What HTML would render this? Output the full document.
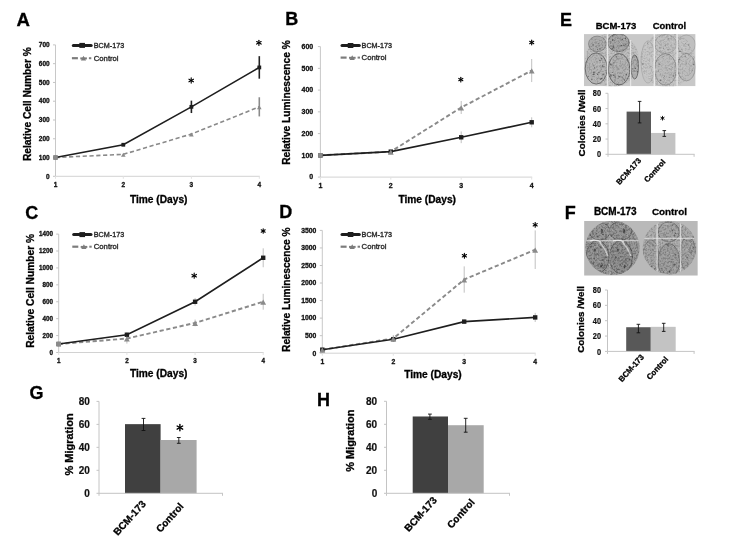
<!DOCTYPE html>
<html><head><meta charset="utf-8"><style>
html,body{margin:0;padding:0;background:#fff;}
body{width:729px;height:552px;overflow:hidden;}
svg{display:block;font-family:"Liberation Sans", sans-serif;filter:grayscale(1);}
</style></head><body>
<svg width="729" height="552" viewBox="0 0 729 552">
<defs><filter id="nz" x="0" y="0" width="1" height="1"><feTurbulence type="fractalNoise" baseFrequency="0.55" numOctaves="2" seed="11"/><feColorMatrix type="matrix" values="0 0 0 0 0  0 0 0 0 0  0 0 0 0 0  -5 0 0 0 2.7"/></filter><filter id="nz2" x="0" y="0" width="1" height="1"><feTurbulence type="fractalNoise" baseFrequency="0.35" numOctaves="2" seed="4"/><feColorMatrix type="matrix" values="0 0 0 0 1  0 0 0 0 1  0 0 0 0 1  4 0 0 0 -2.1"/></filter><filter id="blr" x="-5%" y="-5%" width="110%" height="110%"><feGaussianBlur stdDeviation="0.6"/></filter><clipPath id="ewl"><circle cx="612.2" cy="60.2" r="27"/></clipPath><clipPath id="ewr"><circle cx="667.6" cy="60.0" r="27.5"/></clipPath><clipPath id="c1"><rect x="583.9" y="34.1" width="111.70000000000005" height="52.199999999999996"/></clipPath><clipPath id="c2"><rect x="584.1" y="221.0" width="113.69999999999993" height="54.69999999999999"/></clipPath><clipPath id="c3"><circle cx="612.5" cy="247.9" r="27.1"/></clipPath><clipPath id="c4"><circle cx="669.4" cy="247.6" r="26.8"/></clipPath></defs>
<rect width="729" height="552" fill="#fff"/>
<line x1="55.50" y1="44.90" x2="55.50" y2="176.30" stroke="#c8c8c8" stroke-width="1" stroke-linecap="butt"/>
<line x1="55.50" y1="176.30" x2="259.80" y2="176.30" stroke="#d2d2d2" stroke-width="1" stroke-linecap="butt"/>
<line x1="53.00" y1="176.30" x2="55.50" y2="176.30" stroke="#c4c4c4" stroke-width="1" stroke-linecap="butt"/>
<text x="49.70" y="178.51" font-size="6.5" font-weight="bold" text-anchor="end" fill="#111" stroke="#111" stroke-width="0.3">0</text>
<line x1="53.00" y1="157.53" x2="55.50" y2="157.53" stroke="#c4c4c4" stroke-width="1" stroke-linecap="butt"/>
<text x="49.70" y="159.74" font-size="6.5" font-weight="bold" text-anchor="end" fill="#111" stroke="#111" stroke-width="0.3">100</text>
<line x1="53.00" y1="138.76" x2="55.50" y2="138.76" stroke="#c4c4c4" stroke-width="1" stroke-linecap="butt"/>
<text x="49.70" y="140.97" font-size="6.5" font-weight="bold" text-anchor="end" fill="#111" stroke="#111" stroke-width="0.3">200</text>
<line x1="53.00" y1="119.99" x2="55.50" y2="119.99" stroke="#c4c4c4" stroke-width="1" stroke-linecap="butt"/>
<text x="49.70" y="122.20" font-size="6.5" font-weight="bold" text-anchor="end" fill="#111" stroke="#111" stroke-width="0.3">300</text>
<line x1="53.00" y1="101.21" x2="55.50" y2="101.21" stroke="#c4c4c4" stroke-width="1" stroke-linecap="butt"/>
<text x="49.70" y="103.42" font-size="6.5" font-weight="bold" text-anchor="end" fill="#111" stroke="#111" stroke-width="0.3">400</text>
<line x1="53.00" y1="82.44" x2="55.50" y2="82.44" stroke="#c4c4c4" stroke-width="1" stroke-linecap="butt"/>
<text x="49.70" y="84.65" font-size="6.5" font-weight="bold" text-anchor="end" fill="#111" stroke="#111" stroke-width="0.3">500</text>
<line x1="53.00" y1="63.67" x2="55.50" y2="63.67" stroke="#c4c4c4" stroke-width="1" stroke-linecap="butt"/>
<text x="49.70" y="65.88" font-size="6.5" font-weight="bold" text-anchor="end" fill="#111" stroke="#111" stroke-width="0.3">600</text>
<line x1="53.00" y1="44.90" x2="55.50" y2="44.90" stroke="#c4c4c4" stroke-width="1" stroke-linecap="butt"/>
<text x="49.70" y="47.11" font-size="6.5" font-weight="bold" text-anchor="end" fill="#111" stroke="#111" stroke-width="0.3">700</text>
<line x1="55.50" y1="176.30" x2="55.50" y2="178.80" stroke="#e2e2e2" stroke-width="1" stroke-linecap="butt"/>
<text x="55.50" y="186.84" font-size="6.5" font-weight="bold" text-anchor="middle" fill="#111" stroke="#111" stroke-width="0.3">1</text>
<line x1="123.30" y1="176.30" x2="123.30" y2="178.80" stroke="#e2e2e2" stroke-width="1" stroke-linecap="butt"/>
<text x="123.30" y="186.84" font-size="6.5" font-weight="bold" text-anchor="middle" fill="#111" stroke="#111" stroke-width="0.3">2</text>
<line x1="191.40" y1="176.30" x2="191.40" y2="178.80" stroke="#e2e2e2" stroke-width="1" stroke-linecap="butt"/>
<text x="191.40" y="186.84" font-size="6.5" font-weight="bold" text-anchor="middle" fill="#111" stroke="#111" stroke-width="0.3">3</text>
<line x1="259.30" y1="176.30" x2="259.30" y2="178.80" stroke="#e2e2e2" stroke-width="1" stroke-linecap="butt"/>
<text x="259.30" y="186.84" font-size="6.5" font-weight="bold" text-anchor="middle" fill="#111" stroke="#111" stroke-width="0.3">4</text>
<text x="129.90" y="203.10" font-size="10.2" font-weight="bold" text-anchor="start" fill="#000" stroke="#000" stroke-width="0.3">Time (Days)</text>
<text x="30.80" y="161.00" font-size="10.2" font-weight="bold" text-anchor="start" fill="#000" stroke="#000" stroke-width="0.3" transform="rotate(-90 30.80 161.00)">Relative Cell Number %</text>
<line x1="191.40" y1="133.13" x2="191.40" y2="135.00" stroke="#8a8a8a" stroke-width="1.6" stroke-linecap="butt"/>
<line x1="259.30" y1="97.27" x2="259.30" y2="116.42" stroke="#8a8a8a" stroke-width="1.6" stroke-linecap="butt"/>
<line x1="191.40" y1="100.65" x2="191.40" y2="113.04" stroke="#222" stroke-width="1.6" stroke-linecap="butt"/>
<line x1="259.30" y1="56.16" x2="259.30" y2="78.69" stroke="#222" stroke-width="1.6" stroke-linecap="butt"/>
<polyline points="55.50,157.53 123.30,154.34 191.40,134.06 259.30,106.85" fill="none" stroke="#8a8a8a" stroke-width="1.6" stroke-dasharray="4.2,2.6"/>
<polyline points="55.50,157.53 123.30,144.76 191.40,106.85 259.30,67.43" fill="none" stroke="#1e1e1e" stroke-width="1.6"/>
<rect x="53.60" y="155.63" width="3.80" height="3.80" fill="#1e1e1e"/>
<rect x="121.40" y="142.86" width="3.80" height="3.80" fill="#1e1e1e"/>
<rect x="189.50" y="104.95" width="3.80" height="3.80" fill="#1e1e1e"/>
<rect x="257.40" y="65.53" width="3.80" height="3.80" fill="#1e1e1e"/>
<rect x="53.20" y="155.23" width="4.60" height="4.60" fill="#8a8a8a"/>
<polygon points="121.00,156.81 125.60,156.81 123.30,152.67" fill="#8a8a8a"/>
<polygon points="189.10,136.53 193.70,136.53 191.40,132.39" fill="#8a8a8a"/>
<polygon points="257.00,109.32 261.60,109.32 259.30,105.18" fill="#8a8a8a"/>
<line x1="191.20" y1="77.90" x2="191.20" y2="83.10" stroke="#000" stroke-width="1.1" stroke-linecap="round"/>
<line x1="188.95" y1="79.20" x2="193.45" y2="81.80" stroke="#000" stroke-width="1.1" stroke-linecap="round"/>
<line x1="193.45" y1="79.20" x2="188.95" y2="81.80" stroke="#000" stroke-width="1.1" stroke-linecap="round"/>
<line x1="258.90" y1="40.20" x2="258.90" y2="45.40" stroke="#000" stroke-width="1.1" stroke-linecap="round"/>
<line x1="256.65" y1="41.50" x2="261.15" y2="44.10" stroke="#000" stroke-width="1.1" stroke-linecap="round"/>
<line x1="261.15" y1="41.50" x2="256.65" y2="44.10" stroke="#000" stroke-width="1.1" stroke-linecap="round"/>
<line x1="73.30" y1="45.40" x2="91.20" y2="45.40" stroke="#1e1e1e" stroke-width="3.0" stroke-linecap="round"/>
<rect x="79.35" y="42.90" width="5.60" height="5.00" fill="#1e1e1e"/>
<line x1="71.90" y1="58.20" x2="77.90" y2="58.20" stroke="#7c7c7c" stroke-width="2.2" stroke-linecap="butt"/>
<polygon points="80.90,60.54 86.10,60.54 83.50,55.86" fill="#7c7c7c"/>
<line x1="80.30" y1="58.40" x2="86.90" y2="58.40" stroke="#7c7c7c" stroke-width="2.0" stroke-linecap="butt"/>
<line x1="88.90" y1="58.20" x2="91.30" y2="58.20" stroke="#7c7c7c" stroke-width="2.0" stroke-linecap="butt"/>
<text x="93.80" y="48.00" font-size="7.2" font-weight="normal" text-anchor="start" fill="#2a2a2a" stroke="#2a2a2a" stroke-width="0.35">BCM-173</text>
<text x="93.80" y="60.80" font-size="7.7" font-weight="normal" text-anchor="start" fill="#2a2a2a" stroke="#2a2a2a" stroke-width="0.35">Control</text>
<text x="16.60" y="26.00" font-size="18.6" font-weight="bold" text-anchor="start" fill="#000" stroke="#000" stroke-width="0.3">A</text>
<line x1="320.40" y1="46.60" x2="320.40" y2="177.10" stroke="#c8c8c8" stroke-width="1" stroke-linecap="butt"/>
<line x1="320.40" y1="177.10" x2="532.20" y2="177.10" stroke="#d2d2d2" stroke-width="1" stroke-linecap="butt"/>
<line x1="317.90" y1="177.10" x2="320.40" y2="177.10" stroke="#c4c4c4" stroke-width="1" stroke-linecap="butt"/>
<text x="313.20" y="179.48" font-size="7.0" font-weight="bold" text-anchor="end" fill="#111" stroke="#111" stroke-width="0.3">0</text>
<line x1="317.90" y1="155.35" x2="320.40" y2="155.35" stroke="#c4c4c4" stroke-width="1" stroke-linecap="butt"/>
<text x="313.20" y="157.73" font-size="7.0" font-weight="bold" text-anchor="end" fill="#111" stroke="#111" stroke-width="0.3">100</text>
<line x1="317.90" y1="133.60" x2="320.40" y2="133.60" stroke="#c4c4c4" stroke-width="1" stroke-linecap="butt"/>
<text x="313.20" y="135.98" font-size="7.0" font-weight="bold" text-anchor="end" fill="#111" stroke="#111" stroke-width="0.3">200</text>
<line x1="317.90" y1="111.85" x2="320.40" y2="111.85" stroke="#c4c4c4" stroke-width="1" stroke-linecap="butt"/>
<text x="313.20" y="114.23" font-size="7.0" font-weight="bold" text-anchor="end" fill="#111" stroke="#111" stroke-width="0.3">300</text>
<line x1="317.90" y1="90.10" x2="320.40" y2="90.10" stroke="#c4c4c4" stroke-width="1" stroke-linecap="butt"/>
<text x="313.20" y="92.48" font-size="7.0" font-weight="bold" text-anchor="end" fill="#111" stroke="#111" stroke-width="0.3">400</text>
<line x1="317.90" y1="68.35" x2="320.40" y2="68.35" stroke="#c4c4c4" stroke-width="1" stroke-linecap="butt"/>
<text x="313.20" y="70.73" font-size="7.0" font-weight="bold" text-anchor="end" fill="#111" stroke="#111" stroke-width="0.3">500</text>
<line x1="317.90" y1="46.60" x2="320.40" y2="46.60" stroke="#c4c4c4" stroke-width="1" stroke-linecap="butt"/>
<text x="313.20" y="48.98" font-size="7.0" font-weight="bold" text-anchor="end" fill="#111" stroke="#111" stroke-width="0.3">600</text>
<line x1="320.40" y1="177.10" x2="320.40" y2="179.60" stroke="#e2e2e2" stroke-width="1" stroke-linecap="butt"/>
<text x="320.40" y="187.82" font-size="7.0" font-weight="bold" text-anchor="middle" fill="#111" stroke="#111" stroke-width="0.3">1</text>
<line x1="390.80" y1="177.10" x2="390.80" y2="179.60" stroke="#e2e2e2" stroke-width="1" stroke-linecap="butt"/>
<text x="390.80" y="187.82" font-size="7.0" font-weight="bold" text-anchor="middle" fill="#111" stroke="#111" stroke-width="0.3">2</text>
<line x1="461.20" y1="177.10" x2="461.20" y2="179.60" stroke="#e2e2e2" stroke-width="1" stroke-linecap="butt"/>
<text x="461.20" y="187.82" font-size="7.0" font-weight="bold" text-anchor="middle" fill="#111" stroke="#111" stroke-width="0.3">3</text>
<line x1="531.70" y1="177.10" x2="531.70" y2="179.60" stroke="#e2e2e2" stroke-width="1" stroke-linecap="butt"/>
<text x="531.70" y="187.82" font-size="7.0" font-weight="bold" text-anchor="middle" fill="#111" stroke="#111" stroke-width="0.3">4</text>
<text x="398.40" y="203.30" font-size="10.2" font-weight="bold" text-anchor="start" fill="#000" stroke="#000" stroke-width="0.3">Time (Days)</text>
<text x="289.60" y="164.80" font-size="10.2" font-weight="bold" text-anchor="start" fill="#000" stroke="#000" stroke-width="0.3" transform="rotate(-90 289.60 164.80)">Relative Luminescence %</text>
<line x1="461.20" y1="100.97" x2="461.20" y2="114.02" stroke="#c0c0c0" stroke-width="1" stroke-linecap="butt"/>
<line x1="531.70" y1="59.00" x2="531.70" y2="82.05" stroke="#c0c0c0" stroke-width="1" stroke-linecap="butt"/>
<line x1="461.20" y1="131.43" x2="461.20" y2="143.17" stroke="#c0c0c0" stroke-width="1" stroke-linecap="butt"/>
<line x1="531.70" y1="117.29" x2="531.70" y2="127.29" stroke="#c0c0c0" stroke-width="1" stroke-linecap="butt"/>
<polyline points="320.40,155.35 390.80,151.65 461.20,107.50 531.70,70.52" fill="none" stroke="#8a8a8a" stroke-width="1.9" stroke-dasharray="4.2,2.6"/>
<polyline points="320.40,155.35 390.80,151.65 461.20,137.30 531.70,122.29" fill="none" stroke="#1e1e1e" stroke-width="1.6"/>
<rect x="318.20" y="153.15" width="4.40" height="4.40" fill="#1e1e1e"/>
<rect x="388.60" y="149.45" width="4.40" height="4.40" fill="#1e1e1e"/>
<rect x="459.00" y="135.10" width="4.40" height="4.40" fill="#1e1e1e"/>
<rect x="529.50" y="120.09" width="4.40" height="4.40" fill="#1e1e1e"/>
<rect x="318.10" y="153.05" width="4.60" height="4.60" fill="#8a8a8a"/>
<polygon points="387.90,154.66 393.70,154.66 390.80,149.44" fill="#8a8a8a"/>
<polygon points="458.30,110.51 464.10,110.51 461.20,105.29" fill="#8a8a8a"/>
<polygon points="528.80,73.53 534.60,73.53 531.70,68.31" fill="#8a8a8a"/>
<line x1="460.80" y1="77.25" x2="460.80" y2="81.95" stroke="#000" stroke-width="1.1" stroke-linecap="round"/>
<line x1="458.76" y1="78.42" x2="462.84" y2="80.77" stroke="#000" stroke-width="1.1" stroke-linecap="round"/>
<line x1="462.84" y1="78.42" x2="458.76" y2="80.77" stroke="#000" stroke-width="1.1" stroke-linecap="round"/>
<line x1="531.70" y1="40.15" x2="531.70" y2="44.85" stroke="#000" stroke-width="1.1" stroke-linecap="round"/>
<line x1="529.66" y1="41.33" x2="533.74" y2="43.67" stroke="#000" stroke-width="1.1" stroke-linecap="round"/>
<line x1="533.74" y1="41.33" x2="529.66" y2="43.67" stroke="#000" stroke-width="1.1" stroke-linecap="round"/>
<line x1="342.00" y1="45.50" x2="359.30" y2="45.50" stroke="#1e1e1e" stroke-width="3.0" stroke-linecap="round"/>
<rect x="347.75" y="43.00" width="5.60" height="5.00" fill="#1e1e1e"/>
<line x1="340.60" y1="57.60" x2="346.60" y2="57.60" stroke="#7c7c7c" stroke-width="2.2" stroke-linecap="butt"/>
<polygon points="349.60,59.94 354.80,59.94 352.20,55.26" fill="#7c7c7c"/>
<line x1="349.00" y1="57.80" x2="355.60" y2="57.80" stroke="#7c7c7c" stroke-width="2.0" stroke-linecap="butt"/>
<line x1="357.60" y1="57.60" x2="360.00" y2="57.60" stroke="#7c7c7c" stroke-width="2.0" stroke-linecap="butt"/>
<text x="361.60" y="48.10" font-size="7.2" font-weight="normal" text-anchor="start" fill="#2a2a2a" stroke="#2a2a2a" stroke-width="0.35">BCM-173</text>
<text x="361.60" y="60.20" font-size="7.7" font-weight="normal" text-anchor="start" fill="#2a2a2a" stroke="#2a2a2a" stroke-width="0.35">Control</text>
<text x="285.20" y="25.10" font-size="18" font-weight="bold" text-anchor="start" fill="#000" stroke="#000" stroke-width="0.3">B</text>
<line x1="58.70" y1="234.10" x2="58.70" y2="352.50" stroke="#c8c8c8" stroke-width="1" stroke-linecap="butt"/>
<line x1="58.70" y1="352.50" x2="263.70" y2="352.50" stroke="#d2d2d2" stroke-width="1" stroke-linecap="butt"/>
<line x1="56.20" y1="352.50" x2="58.70" y2="352.50" stroke="#c4c4c4" stroke-width="1" stroke-linecap="butt"/>
<text x="52.90" y="354.64" font-size="6.3" font-weight="bold" text-anchor="end" fill="#111" stroke="#111" stroke-width="0.3">0</text>
<line x1="56.20" y1="335.59" x2="58.70" y2="335.59" stroke="#c4c4c4" stroke-width="1" stroke-linecap="butt"/>
<text x="52.90" y="337.73" font-size="6.3" font-weight="bold" text-anchor="end" fill="#111" stroke="#111" stroke-width="0.3">200</text>
<line x1="56.20" y1="318.67" x2="58.70" y2="318.67" stroke="#c4c4c4" stroke-width="1" stroke-linecap="butt"/>
<text x="52.90" y="320.81" font-size="6.3" font-weight="bold" text-anchor="end" fill="#111" stroke="#111" stroke-width="0.3">400</text>
<line x1="56.20" y1="301.76" x2="58.70" y2="301.76" stroke="#c4c4c4" stroke-width="1" stroke-linecap="butt"/>
<text x="52.90" y="303.90" font-size="6.3" font-weight="bold" text-anchor="end" fill="#111" stroke="#111" stroke-width="0.3">600</text>
<line x1="56.20" y1="284.84" x2="58.70" y2="284.84" stroke="#c4c4c4" stroke-width="1" stroke-linecap="butt"/>
<text x="52.90" y="286.98" font-size="6.3" font-weight="bold" text-anchor="end" fill="#111" stroke="#111" stroke-width="0.3">800</text>
<line x1="56.20" y1="267.93" x2="58.70" y2="267.93" stroke="#c4c4c4" stroke-width="1" stroke-linecap="butt"/>
<text x="52.90" y="270.07" font-size="6.3" font-weight="bold" text-anchor="end" fill="#111" stroke="#111" stroke-width="0.3">1000</text>
<line x1="56.20" y1="251.01" x2="58.70" y2="251.01" stroke="#c4c4c4" stroke-width="1" stroke-linecap="butt"/>
<text x="52.90" y="253.16" font-size="6.3" font-weight="bold" text-anchor="end" fill="#111" stroke="#111" stroke-width="0.3">1200</text>
<line x1="56.20" y1="234.10" x2="58.70" y2="234.10" stroke="#c4c4c4" stroke-width="1" stroke-linecap="butt"/>
<text x="52.90" y="236.24" font-size="6.3" font-weight="bold" text-anchor="end" fill="#111" stroke="#111" stroke-width="0.3">1400</text>
<line x1="58.70" y1="352.50" x2="58.70" y2="355.00" stroke="#e2e2e2" stroke-width="1" stroke-linecap="butt"/>
<text x="58.70" y="363.47" font-size="6.3" font-weight="bold" text-anchor="middle" fill="#111" stroke="#111" stroke-width="0.3">1</text>
<line x1="126.90" y1="352.50" x2="126.90" y2="355.00" stroke="#e2e2e2" stroke-width="1" stroke-linecap="butt"/>
<text x="126.90" y="363.47" font-size="6.3" font-weight="bold" text-anchor="middle" fill="#111" stroke="#111" stroke-width="0.3">2</text>
<line x1="195.10" y1="352.50" x2="195.10" y2="355.00" stroke="#e2e2e2" stroke-width="1" stroke-linecap="butt"/>
<text x="195.10" y="363.47" font-size="6.3" font-weight="bold" text-anchor="middle" fill="#111" stroke="#111" stroke-width="0.3">3</text>
<line x1="263.20" y1="352.50" x2="263.20" y2="355.00" stroke="#e2e2e2" stroke-width="1" stroke-linecap="butt"/>
<text x="263.20" y="363.47" font-size="6.3" font-weight="bold" text-anchor="middle" fill="#111" stroke="#111" stroke-width="0.3">4</text>
<text x="129.90" y="377.40" font-size="10.2" font-weight="bold" text-anchor="start" fill="#000" stroke="#000" stroke-width="0.3">Time (Days)</text>
<text x="34.10" y="347.80" font-size="10.2" font-weight="bold" text-anchor="start" fill="#000" stroke="#000" stroke-width="0.3" transform="rotate(-90 34.10 347.80)">Relative Cell Number %</text>
<line x1="126.90" y1="333.47" x2="126.90" y2="343.62" stroke="#c0c0c0" stroke-width="1" stroke-linecap="butt"/>
<line x1="195.10" y1="319.52" x2="195.10" y2="326.28" stroke="#c0c0c0" stroke-width="1" stroke-linecap="butt"/>
<line x1="263.20" y1="293.81" x2="263.20" y2="309.71" stroke="#c0c0c0" stroke-width="1" stroke-linecap="butt"/>
<line x1="126.90" y1="332.20" x2="126.90" y2="337.28" stroke="#c0c0c0" stroke-width="1" stroke-linecap="butt"/>
<line x1="195.10" y1="297.95" x2="195.10" y2="305.56" stroke="#c0c0c0" stroke-width="1" stroke-linecap="butt"/>
<line x1="263.20" y1="248.31" x2="263.20" y2="267.25" stroke="#c0c0c0" stroke-width="1" stroke-linecap="butt"/>
<polyline points="58.70,344.04 126.90,338.55 195.10,322.90 263.20,301.76" fill="none" stroke="#8a8a8a" stroke-width="1.9" stroke-dasharray="4.2,2.6"/>
<polyline points="58.70,344.04 126.90,334.74 195.10,301.76 263.20,257.78" fill="none" stroke="#1e1e1e" stroke-width="1.6"/>
<rect x="56.50" y="341.84" width="4.40" height="4.40" fill="#1e1e1e"/>
<rect x="124.70" y="332.54" width="4.40" height="4.40" fill="#1e1e1e"/>
<rect x="192.90" y="299.56" width="4.40" height="4.40" fill="#1e1e1e"/>
<rect x="261.00" y="255.58" width="4.40" height="4.40" fill="#1e1e1e"/>
<rect x="56.40" y="341.74" width="4.60" height="4.60" fill="#8a8a8a"/>
<polygon points="124.00,341.56 129.80,341.56 126.90,336.34" fill="#8a8a8a"/>
<polygon points="192.20,325.91 198.00,325.91 195.10,320.69" fill="#8a8a8a"/>
<polygon points="260.30,304.77 266.10,304.77 263.20,299.55" fill="#8a8a8a"/>
<line x1="194.20" y1="273.10" x2="194.20" y2="278.30" stroke="#000" stroke-width="1.1" stroke-linecap="round"/>
<line x1="191.95" y1="274.40" x2="196.45" y2="277.00" stroke="#000" stroke-width="1.1" stroke-linecap="round"/>
<line x1="196.45" y1="274.40" x2="191.95" y2="277.00" stroke="#000" stroke-width="1.1" stroke-linecap="round"/>
<line x1="263.20" y1="228.70" x2="263.20" y2="233.30" stroke="#000" stroke-width="1.1" stroke-linecap="round"/>
<line x1="261.21" y1="229.85" x2="265.19" y2="232.15" stroke="#000" stroke-width="1.1" stroke-linecap="round"/>
<line x1="265.19" y1="229.85" x2="261.21" y2="232.15" stroke="#000" stroke-width="1.1" stroke-linecap="round"/>
<line x1="73.70" y1="234.60" x2="91.00" y2="234.60" stroke="#1e1e1e" stroke-width="3.0" stroke-linecap="round"/>
<rect x="79.45" y="232.10" width="5.60" height="5.00" fill="#1e1e1e"/>
<line x1="72.30" y1="246.70" x2="78.30" y2="246.70" stroke="#7c7c7c" stroke-width="2.2" stroke-linecap="butt"/>
<polygon points="81.30,249.04 86.50,249.04 83.90,244.36" fill="#7c7c7c"/>
<line x1="80.70" y1="246.90" x2="87.30" y2="246.90" stroke="#7c7c7c" stroke-width="2.0" stroke-linecap="butt"/>
<line x1="89.30" y1="246.70" x2="91.70" y2="246.70" stroke="#7c7c7c" stroke-width="2.0" stroke-linecap="butt"/>
<text x="93.80" y="237.20" font-size="7.2" font-weight="normal" text-anchor="start" fill="#2a2a2a" stroke="#2a2a2a" stroke-width="0.35">BCM-173</text>
<text x="93.80" y="249.30" font-size="7.7" font-weight="normal" text-anchor="start" fill="#2a2a2a" stroke="#2a2a2a" stroke-width="0.35">Control</text>
<text x="25.30" y="218.60" font-size="18" font-weight="bold" text-anchor="start" fill="#000" stroke="#000" stroke-width="0.3">C</text>
<line x1="322.30" y1="230.40" x2="322.30" y2="353.20" stroke="#c8c8c8" stroke-width="1" stroke-linecap="butt"/>
<line x1="322.30" y1="353.20" x2="535.70" y2="353.20" stroke="#d2d2d2" stroke-width="1" stroke-linecap="butt"/>
<line x1="319.80" y1="353.20" x2="322.30" y2="353.20" stroke="#c4c4c4" stroke-width="1" stroke-linecap="butt"/>
<text x="316.40" y="355.51" font-size="6.8" font-weight="bold" text-anchor="end" fill="#111" stroke="#111" stroke-width="0.3">0</text>
<line x1="319.80" y1="335.66" x2="322.30" y2="335.66" stroke="#c4c4c4" stroke-width="1" stroke-linecap="butt"/>
<text x="316.40" y="337.97" font-size="6.8" font-weight="bold" text-anchor="end" fill="#111" stroke="#111" stroke-width="0.3">500</text>
<line x1="319.80" y1="318.11" x2="322.30" y2="318.11" stroke="#c4c4c4" stroke-width="1" stroke-linecap="butt"/>
<text x="316.40" y="320.43" font-size="6.8" font-weight="bold" text-anchor="end" fill="#111" stroke="#111" stroke-width="0.3">1000</text>
<line x1="319.80" y1="300.57" x2="322.30" y2="300.57" stroke="#c4c4c4" stroke-width="1" stroke-linecap="butt"/>
<text x="316.40" y="302.88" font-size="6.8" font-weight="bold" text-anchor="end" fill="#111" stroke="#111" stroke-width="0.3">1500</text>
<line x1="319.80" y1="283.03" x2="322.30" y2="283.03" stroke="#c4c4c4" stroke-width="1" stroke-linecap="butt"/>
<text x="316.40" y="285.34" font-size="6.8" font-weight="bold" text-anchor="end" fill="#111" stroke="#111" stroke-width="0.3">2000</text>
<line x1="319.80" y1="265.49" x2="322.30" y2="265.49" stroke="#c4c4c4" stroke-width="1" stroke-linecap="butt"/>
<text x="316.40" y="267.80" font-size="6.8" font-weight="bold" text-anchor="end" fill="#111" stroke="#111" stroke-width="0.3">2500</text>
<line x1="319.80" y1="247.94" x2="322.30" y2="247.94" stroke="#c4c4c4" stroke-width="1" stroke-linecap="butt"/>
<text x="316.40" y="250.25" font-size="6.8" font-weight="bold" text-anchor="end" fill="#111" stroke="#111" stroke-width="0.3">3000</text>
<line x1="319.80" y1="230.40" x2="322.30" y2="230.40" stroke="#c4c4c4" stroke-width="1" stroke-linecap="butt"/>
<text x="316.40" y="232.71" font-size="6.8" font-weight="bold" text-anchor="end" fill="#111" stroke="#111" stroke-width="0.3">3500</text>
<line x1="322.30" y1="353.20" x2="322.30" y2="355.70" stroke="#e2e2e2" stroke-width="1" stroke-linecap="butt"/>
<text x="322.30" y="363.95" font-size="6.8" font-weight="bold" text-anchor="middle" fill="#111" stroke="#111" stroke-width="0.3">1</text>
<line x1="393.30" y1="353.20" x2="393.30" y2="355.70" stroke="#e2e2e2" stroke-width="1" stroke-linecap="butt"/>
<text x="393.30" y="363.95" font-size="6.8" font-weight="bold" text-anchor="middle" fill="#111" stroke="#111" stroke-width="0.3">2</text>
<line x1="464.20" y1="353.20" x2="464.20" y2="355.70" stroke="#e2e2e2" stroke-width="1" stroke-linecap="butt"/>
<text x="464.20" y="363.95" font-size="6.8" font-weight="bold" text-anchor="middle" fill="#111" stroke="#111" stroke-width="0.3">3</text>
<line x1="535.20" y1="353.20" x2="535.20" y2="355.70" stroke="#e2e2e2" stroke-width="1" stroke-linecap="butt"/>
<text x="535.20" y="363.95" font-size="6.8" font-weight="bold" text-anchor="middle" fill="#111" stroke="#111" stroke-width="0.3">4</text>
<text x="404.20" y="377.90" font-size="10.2" font-weight="bold" text-anchor="start" fill="#000" stroke="#000" stroke-width="0.3">Time (Days)</text>
<text x="289.60" y="351.90" font-size="10.2" font-weight="bold" text-anchor="start" fill="#000" stroke="#000" stroke-width="0.3" transform="rotate(-90 289.60 351.90)">Relative Luminescence %</text>
<line x1="393.30" y1="334.96" x2="393.30" y2="341.97" stroke="#c0c0c0" stroke-width="1" stroke-linecap="butt"/>
<line x1="464.20" y1="266.36" x2="464.20" y2="292.68" stroke="#c0c0c0" stroke-width="1" stroke-linecap="butt"/>
<line x1="535.20" y1="230.40" x2="535.20" y2="268.99" stroke="#c0c0c0" stroke-width="1" stroke-linecap="butt"/>
<line x1="393.30" y1="337.76" x2="393.30" y2="340.57" stroke="#c0c0c0" stroke-width="1" stroke-linecap="butt"/>
<line x1="464.20" y1="319.52" x2="464.20" y2="323.73" stroke="#c0c0c0" stroke-width="1" stroke-linecap="butt"/>
<line x1="535.20" y1="312.85" x2="535.20" y2="321.97" stroke="#c0c0c0" stroke-width="1" stroke-linecap="butt"/>
<polyline points="322.30,349.69 393.30,338.46 464.20,279.52 535.20,249.70" fill="none" stroke="#8a8a8a" stroke-width="1.9" stroke-dasharray="4.2,2.6"/>
<polyline points="322.30,349.69 393.30,339.17 464.20,321.62 535.20,317.41" fill="none" stroke="#1e1e1e" stroke-width="1.6"/>
<rect x="320.10" y="347.49" width="4.40" height="4.40" fill="#1e1e1e"/>
<rect x="391.10" y="336.97" width="4.40" height="4.40" fill="#1e1e1e"/>
<rect x="462.00" y="319.42" width="4.40" height="4.40" fill="#1e1e1e"/>
<rect x="533.00" y="315.21" width="4.40" height="4.40" fill="#1e1e1e"/>
<polygon points="319.40,352.70 325.20,352.70 322.30,347.48" fill="#8a8a8a"/>
<polygon points="390.40,341.47 396.20,341.47 393.30,336.25" fill="#8a8a8a"/>
<polygon points="461.30,282.53 467.10,282.53 464.20,277.31" fill="#8a8a8a"/>
<polygon points="532.30,252.71 538.10,252.71 535.20,247.49" fill="#8a8a8a"/>
<line x1="464.40" y1="253.40" x2="464.40" y2="258.20" stroke="#000" stroke-width="1.1" stroke-linecap="round"/>
<line x1="462.32" y1="254.60" x2="466.48" y2="257.00" stroke="#000" stroke-width="1.1" stroke-linecap="round"/>
<line x1="466.48" y1="254.60" x2="462.32" y2="257.00" stroke="#000" stroke-width="1.1" stroke-linecap="round"/>
<line x1="535.20" y1="222.45" x2="535.20" y2="227.15" stroke="#000" stroke-width="1.1" stroke-linecap="round"/>
<line x1="533.16" y1="223.62" x2="537.24" y2="225.98" stroke="#000" stroke-width="1.1" stroke-linecap="round"/>
<line x1="537.24" y1="223.62" x2="533.16" y2="225.98" stroke="#000" stroke-width="1.1" stroke-linecap="round"/>
<line x1="342.00" y1="234.50" x2="359.30" y2="234.50" stroke="#1e1e1e" stroke-width="3.0" stroke-linecap="round"/>
<rect x="347.75" y="232.00" width="5.60" height="5.00" fill="#1e1e1e"/>
<line x1="340.60" y1="246.70" x2="346.60" y2="246.70" stroke="#7c7c7c" stroke-width="2.2" stroke-linecap="butt"/>
<polygon points="349.60,249.04 354.80,249.04 352.20,244.36" fill="#7c7c7c"/>
<line x1="349.00" y1="246.90" x2="355.60" y2="246.90" stroke="#7c7c7c" stroke-width="2.0" stroke-linecap="butt"/>
<line x1="357.60" y1="246.70" x2="360.00" y2="246.70" stroke="#7c7c7c" stroke-width="2.0" stroke-linecap="butt"/>
<text x="361.60" y="237.10" font-size="7.2" font-weight="normal" text-anchor="start" fill="#2a2a2a" stroke="#2a2a2a" stroke-width="0.35">BCM-173</text>
<text x="361.60" y="249.30" font-size="7.7" font-weight="normal" text-anchor="start" fill="#2a2a2a" stroke="#2a2a2a" stroke-width="0.35">Control</text>
<text x="279.20" y="218.30" font-size="18" font-weight="bold" text-anchor="start" fill="#000" stroke="#000" stroke-width="0.3">D</text>
<rect x="626.60" y="111.60" width="24.40" height="42.70" fill="#585858"/>
<rect x="651.00" y="132.95" width="24.40" height="21.35" fill="#c3c3c3"/>
<line x1="608.00" y1="93.30" x2="608.00" y2="154.30" stroke="#c4c4c4" stroke-width="1" stroke-linecap="butt"/>
<line x1="608.00" y1="154.30" x2="694.60" y2="154.30" stroke="#c4c4c4" stroke-width="1" stroke-linecap="butt"/>
<line x1="608.00" y1="154.30" x2="608.00" y2="156.80" stroke="#c4c4c4" stroke-width="1" stroke-linecap="butt"/>
<line x1="694.10" y1="154.30" x2="694.10" y2="156.80" stroke="#c4c4c4" stroke-width="1" stroke-linecap="butt"/>
<line x1="605.50" y1="154.30" x2="608.00" y2="154.30" stroke="#c4c4c4" stroke-width="1" stroke-linecap="butt"/>
<text x="0" y="0" font-size="8.6" font-weight="bold" text-anchor="end" fill="#111" stroke="#111" stroke-width="0.2" transform="translate(601.00 157.40) scale(0.86 1)">0</text>
<line x1="605.50" y1="139.05" x2="608.00" y2="139.05" stroke="#c4c4c4" stroke-width="1" stroke-linecap="butt"/>
<text x="0" y="0" font-size="8.6" font-weight="bold" text-anchor="end" fill="#111" stroke="#111" stroke-width="0.2" transform="translate(601.00 142.15) scale(0.86 1)">20</text>
<line x1="605.50" y1="123.80" x2="608.00" y2="123.80" stroke="#c4c4c4" stroke-width="1" stroke-linecap="butt"/>
<text x="0" y="0" font-size="8.6" font-weight="bold" text-anchor="end" fill="#111" stroke="#111" stroke-width="0.2" transform="translate(601.00 126.90) scale(0.86 1)">40</text>
<line x1="605.50" y1="108.55" x2="608.00" y2="108.55" stroke="#c4c4c4" stroke-width="1" stroke-linecap="butt"/>
<text x="0" y="0" font-size="8.6" font-weight="bold" text-anchor="end" fill="#111" stroke="#111" stroke-width="0.2" transform="translate(601.00 111.65) scale(0.86 1)">60</text>
<line x1="605.50" y1="93.30" x2="608.00" y2="93.30" stroke="#c4c4c4" stroke-width="1" stroke-linecap="butt"/>
<text x="0" y="0" font-size="8.6" font-weight="bold" text-anchor="end" fill="#111" stroke="#111" stroke-width="0.2" transform="translate(601.00 96.40) scale(0.86 1)">80</text>
<line x1="639.60" y1="101.40" x2="639.60" y2="122.90" stroke="#111" stroke-width="0.9" stroke-linecap="butt"/>
<line x1="637.80" y1="101.40" x2="641.40" y2="101.40" stroke="#111" stroke-width="0.9" stroke-linecap="butt"/>
<line x1="637.80" y1="122.90" x2="641.40" y2="122.90" stroke="#111" stroke-width="0.9" stroke-linecap="butt"/>
<line x1="664.30" y1="130.60" x2="664.30" y2="136.40" stroke="#111" stroke-width="0.9" stroke-linecap="butt"/>
<line x1="662.50" y1="130.60" x2="666.10" y2="130.60" stroke="#111" stroke-width="0.9" stroke-linecap="butt"/>
<line x1="662.50" y1="136.40" x2="666.10" y2="136.40" stroke="#111" stroke-width="0.9" stroke-linecap="butt"/>
<line x1="662.50" y1="116.30" x2="662.50" y2="120.10" stroke="#000" stroke-width="0.9" stroke-linecap="round"/>
<line x1="660.85" y1="117.25" x2="664.15" y2="119.15" stroke="#000" stroke-width="0.9" stroke-linecap="round"/>
<line x1="664.15" y1="117.25" x2="660.85" y2="119.15" stroke="#000" stroke-width="0.9" stroke-linecap="round"/>
<text x="585.00" y="156.40" font-size="9.8" font-weight="bold" text-anchor="start" fill="#000" stroke="#000" stroke-width="0.3" transform="rotate(-90 585.00 156.40)">Colonies /Well</text>
<text x="641.60" y="160.90" font-size="7.7" font-weight="bold" text-anchor="end" fill="#000" stroke="#000" stroke-width="0.3" transform="rotate(-48 641.60 160.90)">BCM-173</text>
<text x="665.90" y="162.50" font-size="7.7" font-weight="bold" text-anchor="end" fill="#000" stroke="#000" stroke-width="0.3" transform="rotate(-48 665.90 162.50)">Control</text>
<text x="560.00" y="25.90" font-size="18" font-weight="bold" text-anchor="start" fill="#000" stroke="#000" stroke-width="0.3">E</text>
<rect x="626.20" y="327.22" width="24.60" height="24.18" fill="#585858"/>
<rect x="650.80" y="326.84" width="24.90" height="24.56" fill="#c3c3c3"/>
<line x1="607.50" y1="290.00" x2="607.50" y2="351.40" stroke="#c4c4c4" stroke-width="1" stroke-linecap="butt"/>
<line x1="607.50" y1="351.40" x2="694.60" y2="351.40" stroke="#c4c4c4" stroke-width="1" stroke-linecap="butt"/>
<line x1="607.50" y1="351.40" x2="607.50" y2="353.90" stroke="#c4c4c4" stroke-width="1" stroke-linecap="butt"/>
<line x1="694.10" y1="351.40" x2="694.10" y2="353.90" stroke="#c4c4c4" stroke-width="1" stroke-linecap="butt"/>
<line x1="605.00" y1="351.40" x2="607.50" y2="351.40" stroke="#c4c4c4" stroke-width="1" stroke-linecap="butt"/>
<text x="0" y="0" font-size="8.6" font-weight="bold" text-anchor="end" fill="#111" stroke="#111" stroke-width="0.2" transform="translate(601.00 354.50) scale(0.86 1)">0</text>
<line x1="605.00" y1="336.05" x2="607.50" y2="336.05" stroke="#c4c4c4" stroke-width="1" stroke-linecap="butt"/>
<text x="0" y="0" font-size="8.6" font-weight="bold" text-anchor="end" fill="#111" stroke="#111" stroke-width="0.2" transform="translate(601.00 339.15) scale(0.86 1)">20</text>
<line x1="605.00" y1="320.70" x2="607.50" y2="320.70" stroke="#c4c4c4" stroke-width="1" stroke-linecap="butt"/>
<text x="0" y="0" font-size="8.6" font-weight="bold" text-anchor="end" fill="#111" stroke="#111" stroke-width="0.2" transform="translate(601.00 323.80) scale(0.86 1)">40</text>
<line x1="605.00" y1="305.35" x2="607.50" y2="305.35" stroke="#c4c4c4" stroke-width="1" stroke-linecap="butt"/>
<text x="0" y="0" font-size="8.6" font-weight="bold" text-anchor="end" fill="#111" stroke="#111" stroke-width="0.2" transform="translate(601.00 308.45) scale(0.86 1)">60</text>
<line x1="605.00" y1="290.00" x2="607.50" y2="290.00" stroke="#c4c4c4" stroke-width="1" stroke-linecap="butt"/>
<text x="0" y="0" font-size="8.6" font-weight="bold" text-anchor="end" fill="#111" stroke="#111" stroke-width="0.2" transform="translate(601.00 293.10) scale(0.86 1)">80</text>
<line x1="638.40" y1="324.30" x2="638.40" y2="332.80" stroke="#111" stroke-width="0.9" stroke-linecap="butt"/>
<line x1="636.60" y1="324.30" x2="640.20" y2="324.30" stroke="#111" stroke-width="0.9" stroke-linecap="butt"/>
<line x1="636.60" y1="332.80" x2="640.20" y2="332.80" stroke="#111" stroke-width="0.9" stroke-linecap="butt"/>
<line x1="663.70" y1="323.30" x2="663.70" y2="331.40" stroke="#111" stroke-width="0.9" stroke-linecap="butt"/>
<line x1="661.90" y1="323.30" x2="665.50" y2="323.30" stroke="#111" stroke-width="0.9" stroke-linecap="butt"/>
<line x1="661.90" y1="331.40" x2="665.50" y2="331.40" stroke="#111" stroke-width="0.9" stroke-linecap="butt"/>
<text x="584.40" y="352.80" font-size="9.8" font-weight="bold" text-anchor="start" fill="#000" stroke="#000" stroke-width="0.3" transform="rotate(-90 584.40 352.80)">Colonies /Well</text>
<text x="644.50" y="357.40" font-size="7.9" font-weight="bold" text-anchor="end" fill="#000" stroke="#000" stroke-width="0.3" transform="rotate(-48 644.50 357.40)">BCM-173</text>
<text x="668.70" y="359.50" font-size="7.9" font-weight="bold" text-anchor="end" fill="#000" stroke="#000" stroke-width="0.3" transform="rotate(-48 668.70 359.50)">Control</text>
<text x="564.80" y="219.20" font-size="18" font-weight="bold" text-anchor="start" fill="#000" stroke="#000" stroke-width="0.3">F</text>
<rect x="125.00" y="424.15" width="35.60" height="69.15" fill="#404040"/>
<rect x="160.60" y="440.00" width="36.00" height="53.30" fill="#a8a8a8"/>
<line x1="99.00" y1="401.40" x2="99.00" y2="493.30" stroke="#c4c4c4" stroke-width="1" stroke-linecap="butt"/>
<line x1="99.00" y1="493.30" x2="223.00" y2="493.30" stroke="#c4c4c4" stroke-width="1" stroke-linecap="butt"/>
<line x1="99.00" y1="493.30" x2="99.00" y2="495.80" stroke="#c4c4c4" stroke-width="1" stroke-linecap="butt"/>
<line x1="222.50" y1="493.30" x2="222.50" y2="495.80" stroke="#c4c4c4" stroke-width="1" stroke-linecap="butt"/>
<line x1="96.50" y1="493.30" x2="99.00" y2="493.30" stroke="#c4c4c4" stroke-width="1" stroke-linecap="butt"/>
<text x="89.80" y="496.90" font-size="10" font-weight="bold" text-anchor="end" fill="#111" stroke="#111" stroke-width="0.2">0</text>
<line x1="96.50" y1="470.32" x2="99.00" y2="470.32" stroke="#c4c4c4" stroke-width="1" stroke-linecap="butt"/>
<text x="89.80" y="473.93" font-size="10" font-weight="bold" text-anchor="end" fill="#111" stroke="#111" stroke-width="0.2">20</text>
<line x1="96.50" y1="447.35" x2="99.00" y2="447.35" stroke="#c4c4c4" stroke-width="1" stroke-linecap="butt"/>
<text x="89.80" y="450.95" font-size="10" font-weight="bold" text-anchor="end" fill="#111" stroke="#111" stroke-width="0.2">40</text>
<line x1="96.50" y1="424.38" x2="99.00" y2="424.38" stroke="#c4c4c4" stroke-width="1" stroke-linecap="butt"/>
<text x="89.80" y="427.98" font-size="10" font-weight="bold" text-anchor="end" fill="#111" stroke="#111" stroke-width="0.2">60</text>
<line x1="96.50" y1="401.40" x2="99.00" y2="401.40" stroke="#c4c4c4" stroke-width="1" stroke-linecap="butt"/>
<text x="89.80" y="405.00" font-size="10" font-weight="bold" text-anchor="end" fill="#111" stroke="#111" stroke-width="0.2">80</text>
<line x1="143.50" y1="418.40" x2="143.50" y2="430.50" stroke="#111" stroke-width="0.9" stroke-linecap="butt"/>
<line x1="141.60" y1="418.40" x2="145.40" y2="418.40" stroke="#111" stroke-width="0.9" stroke-linecap="butt"/>
<line x1="141.60" y1="430.50" x2="145.40" y2="430.50" stroke="#111" stroke-width="0.9" stroke-linecap="butt"/>
<line x1="178.80" y1="437.50" x2="178.80" y2="443.30" stroke="#111" stroke-width="0.9" stroke-linecap="butt"/>
<line x1="176.90" y1="437.50" x2="180.70" y2="437.50" stroke="#111" stroke-width="0.9" stroke-linecap="butt"/>
<line x1="176.90" y1="443.30" x2="180.70" y2="443.30" stroke="#111" stroke-width="0.9" stroke-linecap="butt"/>
<line x1="179.90" y1="424.40" x2="179.90" y2="430.80" stroke="#000" stroke-width="1.4" stroke-linecap="round"/>
<line x1="177.13" y1="426.00" x2="182.67" y2="429.20" stroke="#000" stroke-width="1.4" stroke-linecap="round"/>
<line x1="182.67" y1="426.00" x2="177.13" y2="429.20" stroke="#000" stroke-width="1.4" stroke-linecap="round"/>
<text x="72.70" y="475.60" font-size="11.0" font-weight="bold" text-anchor="start" fill="#000" stroke="#000" stroke-width="0.3" transform="rotate(-90 72.70 475.60)">% Migration</text>
<text x="146.40" y="504.30" font-size="10" font-weight="bold" text-anchor="end" fill="#000" stroke="#000" stroke-width="0.3" transform="rotate(-48 146.40 504.30)">BCM-173</text>
<text x="184.20" y="506.70" font-size="10" font-weight="bold" text-anchor="end" fill="#000" stroke="#000" stroke-width="0.3" transform="rotate(-48 184.20 506.70)">Control</text>
<text x="29.40" y="399.30" font-size="18" font-weight="bold" text-anchor="start" fill="#000" stroke="#000" stroke-width="0.3">G</text>
<rect x="412.70" y="416.48" width="35.30" height="76.82" fill="#404040"/>
<rect x="448.00" y="425.22" width="35.70" height="68.08" fill="#a8a8a8"/>
<line x1="386.50" y1="401.30" x2="386.50" y2="493.30" stroke="#c4c4c4" stroke-width="1" stroke-linecap="butt"/>
<line x1="386.50" y1="493.30" x2="510.00" y2="493.30" stroke="#c4c4c4" stroke-width="1" stroke-linecap="butt"/>
<line x1="386.50" y1="493.30" x2="386.50" y2="495.80" stroke="#c4c4c4" stroke-width="1" stroke-linecap="butt"/>
<line x1="509.50" y1="493.30" x2="509.50" y2="495.80" stroke="#c4c4c4" stroke-width="1" stroke-linecap="butt"/>
<line x1="384.00" y1="493.30" x2="386.50" y2="493.30" stroke="#c4c4c4" stroke-width="1" stroke-linecap="butt"/>
<text x="377.20" y="496.90" font-size="10" font-weight="bold" text-anchor="end" fill="#111" stroke="#111" stroke-width="0.2">0</text>
<line x1="384.00" y1="470.30" x2="386.50" y2="470.30" stroke="#c4c4c4" stroke-width="1" stroke-linecap="butt"/>
<text x="377.20" y="473.90" font-size="10" font-weight="bold" text-anchor="end" fill="#111" stroke="#111" stroke-width="0.2">20</text>
<line x1="384.00" y1="447.30" x2="386.50" y2="447.30" stroke="#c4c4c4" stroke-width="1" stroke-linecap="butt"/>
<text x="377.20" y="450.90" font-size="10" font-weight="bold" text-anchor="end" fill="#111" stroke="#111" stroke-width="0.2">40</text>
<line x1="384.00" y1="424.30" x2="386.50" y2="424.30" stroke="#c4c4c4" stroke-width="1" stroke-linecap="butt"/>
<text x="377.20" y="427.90" font-size="10" font-weight="bold" text-anchor="end" fill="#111" stroke="#111" stroke-width="0.2">60</text>
<line x1="384.00" y1="401.30" x2="386.50" y2="401.30" stroke="#c4c4c4" stroke-width="1" stroke-linecap="butt"/>
<text x="377.20" y="404.90" font-size="10" font-weight="bold" text-anchor="end" fill="#111" stroke="#111" stroke-width="0.2">80</text>
<line x1="429.90" y1="414.10" x2="429.90" y2="419.30" stroke="#111" stroke-width="0.9" stroke-linecap="butt"/>
<line x1="428.00" y1="414.10" x2="431.80" y2="414.10" stroke="#111" stroke-width="0.9" stroke-linecap="butt"/>
<line x1="428.00" y1="419.30" x2="431.80" y2="419.30" stroke="#111" stroke-width="0.9" stroke-linecap="butt"/>
<line x1="465.70" y1="418.30" x2="465.70" y2="432.20" stroke="#111" stroke-width="0.9" stroke-linecap="butt"/>
<line x1="463.80" y1="418.30" x2="467.60" y2="418.30" stroke="#111" stroke-width="0.9" stroke-linecap="butt"/>
<line x1="463.80" y1="432.20" x2="467.60" y2="432.20" stroke="#111" stroke-width="0.9" stroke-linecap="butt"/>
<text x="354.40" y="471.80" font-size="11.0" font-weight="bold" text-anchor="start" fill="#000" stroke="#000" stroke-width="0.3" transform="rotate(-90 354.40 471.80)">% Migration</text>
<text x="437.50" y="500.50" font-size="10" font-weight="bold" text-anchor="end" fill="#000" stroke="#000" stroke-width="0.3" transform="rotate(-48 437.50 500.50)">BCM-173</text>
<text x="475.30" y="502.60" font-size="10" font-weight="bold" text-anchor="end" fill="#000" stroke="#000" stroke-width="0.3" transform="rotate(-48 475.30 502.60)">Control</text>
<text x="317.10" y="405.60" font-size="18" font-weight="bold" text-anchor="start" fill="#000" stroke="#000" stroke-width="0.3">H</text>
<g clip-path="url(#c1)"><g filter="url(#blr)">
<rect x="583.90" y="34.10" width="111.70" height="52.20" fill="#c8c8c8"/>
<circle cx="612.2" cy="60.2" r="27" fill="#bebebe"/>
<ellipse cx="597.3" cy="43.9" rx="8.8" ry="7.8" fill="#aaaaaa" stroke="#707070" stroke-width="0.6" opacity="1"/>
<ellipse cx="618.4" cy="42.6" rx="10.6" ry="9.0" fill="#a5a5a5" stroke="#5a5a5a" stroke-width="0.7" opacity="1"/>
<ellipse cx="596.2" cy="68.5" rx="11.0" ry="15.6" fill="#b3b3b3" stroke="#5a5a5a" stroke-width="0.8" opacity="1"/>
<ellipse cx="619.1" cy="69.3" rx="10.8" ry="15.7" fill="#b0b0b0" stroke="#5a5a5a" stroke-width="0.8" opacity="1"/>
<ellipse cx="634.7" cy="67.0" rx="3.7" ry="12.0" fill="#adadad" stroke="#5a5a5a" stroke-width="0.8" opacity="1"/>
<circle cx="595.92" cy="46.34" r="0.64" fill="#555" opacity="0.54"/>
<circle cx="592.63" cy="42.95" r="0.38" fill="#555" opacity="0.75"/>
<circle cx="602.37" cy="44.98" r="0.38" fill="#555" opacity="0.55"/>
<circle cx="590.89" cy="46.82" r="0.41" fill="#555" opacity="0.61"/>
<circle cx="591.93" cy="38.99" r="0.61" fill="#555" opacity="0.70"/>
<circle cx="598.99" cy="43.67" r="0.74" fill="#555" opacity="0.64"/>
<circle cx="598.98" cy="45.80" r="0.49" fill="#555" opacity="0.91"/>
<circle cx="599.85" cy="48.75" r="0.64" fill="#555" opacity="0.69"/>
<circle cx="595.40" cy="43.38" r="0.38" fill="#555" opacity="0.60"/>
<circle cx="595.11" cy="39.74" r="0.49" fill="#555" opacity="0.79"/>
<circle cx="593.15" cy="45.01" r="0.71" fill="#555" opacity="0.85"/>
<circle cx="597.52" cy="49.22" r="0.59" fill="#555" opacity="0.94"/>
<circle cx="617.74" cy="38.29" r="0.79" fill="#444" opacity="0.56"/>
<circle cx="611.17" cy="46.07" r="0.42" fill="#444" opacity="0.74"/>
<circle cx="625.96" cy="44.21" r="0.69" fill="#444" opacity="0.79"/>
<circle cx="622.19" cy="39.40" r="0.66" fill="#444" opacity="0.80"/>
<circle cx="612.75" cy="39.97" r="0.73" fill="#444" opacity="0.97"/>
<circle cx="610.73" cy="43.67" r="0.38" fill="#444" opacity="0.85"/>
<circle cx="612.67" cy="36.16" r="0.72" fill="#444" opacity="0.64"/>
<circle cx="612.52" cy="46.96" r="0.36" fill="#444" opacity="0.73"/>
<circle cx="620.01" cy="45.01" r="0.38" fill="#444" opacity="0.88"/>
<circle cx="621.66" cy="45.53" r="0.53" fill="#444" opacity="0.94"/>
<circle cx="623.99" cy="45.23" r="0.60" fill="#444" opacity="0.94"/>
<circle cx="622.14" cy="35.77" r="0.48" fill="#444" opacity="0.71"/>
<circle cx="612.74" cy="48.51" r="0.78" fill="#444" opacity="0.58"/>
<circle cx="620.45" cy="46.09" r="0.46" fill="#444" opacity="0.74"/>
<circle cx="614.26" cy="40.39" r="0.35" fill="#444" opacity="0.71"/>
<circle cx="613.51" cy="47.06" r="0.78" fill="#444" opacity="0.85"/>
<circle cx="610.94" cy="41.98" r="0.65" fill="#444" opacity="0.53"/>
<circle cx="625.20" cy="38.38" r="0.74" fill="#444" opacity="0.90"/>
<circle cx="613.70" cy="45.80" r="0.40" fill="#444" opacity="0.82"/>
<circle cx="620.69" cy="43.40" r="0.44" fill="#444" opacity="0.58"/>
<circle cx="594.98" cy="71.22" r="0.35" fill="#555" opacity="0.58"/>
<circle cx="601.00" cy="73.54" r="0.36" fill="#555" opacity="0.94"/>
<circle cx="593.32" cy="64.95" r="0.46" fill="#555" opacity="0.67"/>
<circle cx="593.92" cy="72.21" r="0.73" fill="#555" opacity="1.00"/>
<circle cx="589.47" cy="70.57" r="0.39" fill="#555" opacity="0.55"/>
<circle cx="593.40" cy="74.53" r="0.72" fill="#555" opacity="0.58"/>
<circle cx="605.75" cy="70.48" r="0.59" fill="#555" opacity="0.57"/>
<circle cx="594.63" cy="67.88" r="0.59" fill="#555" opacity="0.99"/>
<circle cx="601.60" cy="59.63" r="0.47" fill="#555" opacity="0.68"/>
<circle cx="600.53" cy="79.20" r="0.59" fill="#555" opacity="0.89"/>
<circle cx="593.96" cy="74.32" r="0.72" fill="#555" opacity="0.99"/>
<circle cx="601.54" cy="58.43" r="0.72" fill="#555" opacity="0.87"/>
<circle cx="597.24" cy="78.49" r="0.51" fill="#555" opacity="0.51"/>
<circle cx="601.35" cy="69.80" r="0.47" fill="#555" opacity="0.85"/>
<circle cx="602.58" cy="65.97" r="0.77" fill="#555" opacity="0.99"/>
<circle cx="601.94" cy="66.13" r="0.45" fill="#555" opacity="0.61"/>
<circle cx="597.67" cy="74.49" r="0.63" fill="#555" opacity="0.95"/>
<circle cx="599.89" cy="60.31" r="0.64" fill="#555" opacity="0.90"/>
<circle cx="603.13" cy="74.30" r="0.76" fill="#555" opacity="0.89"/>
<circle cx="596.21" cy="58.79" r="0.43" fill="#555" opacity="0.89"/>
<circle cx="591.81" cy="79.41" r="0.79" fill="#555" opacity="0.70"/>
<circle cx="588.36" cy="76.43" r="0.68" fill="#555" opacity="0.59"/>
<circle cx="598.89" cy="72.41" r="0.76" fill="#555" opacity="0.90"/>
<circle cx="601.66" cy="78.64" r="0.79" fill="#555" opacity="0.83"/>
<circle cx="591.87" cy="76.90" r="0.41" fill="#555" opacity="0.51"/>
<circle cx="604.05" cy="66.44" r="0.59" fill="#555" opacity="0.97"/>
<circle cx="610.80" cy="74.63" r="0.72" fill="#555" opacity="0.61"/>
<circle cx="619.04" cy="76.95" r="0.46" fill="#555" opacity="0.79"/>
<circle cx="618.73" cy="78.43" r="0.41" fill="#555" opacity="0.96"/>
<circle cx="615.11" cy="76.90" r="0.61" fill="#555" opacity="0.95"/>
<circle cx="610.92" cy="75.77" r="0.58" fill="#555" opacity="0.77"/>
<circle cx="617.79" cy="69.02" r="0.55" fill="#555" opacity="0.59"/>
<circle cx="627.79" cy="69.61" r="0.43" fill="#555" opacity="0.74"/>
<circle cx="617.97" cy="58.89" r="0.50" fill="#555" opacity="0.76"/>
<circle cx="611.01" cy="65.03" r="0.40" fill="#555" opacity="0.78"/>
<circle cx="619.15" cy="76.74" r="0.70" fill="#555" opacity="0.75"/>
<circle cx="611.26" cy="64.64" r="0.76" fill="#555" opacity="0.72"/>
<circle cx="613.85" cy="62.77" r="0.58" fill="#555" opacity="0.85"/>
<circle cx="612.32" cy="72.34" r="0.57" fill="#555" opacity="0.97"/>
<circle cx="616.25" cy="56.74" r="0.77" fill="#555" opacity="0.63"/>
<circle cx="610.31" cy="64.29" r="0.73" fill="#555" opacity="0.57"/>
<circle cx="623.77" cy="75.80" r="0.38" fill="#555" opacity="0.62"/>
<circle cx="626.23" cy="74.43" r="0.70" fill="#555" opacity="0.95"/>
<circle cx="623.75" cy="79.17" r="0.65" fill="#555" opacity="0.57"/>
<circle cx="626.19" cy="59.97" r="0.45" fill="#555" opacity="0.98"/>
<circle cx="613.65" cy="75.18" r="0.80" fill="#555" opacity="0.92"/>
<circle cx="622.47" cy="77.18" r="0.58" fill="#555" opacity="0.67"/>
<circle cx="620.93" cy="76.82" r="0.67" fill="#555" opacity="0.51"/>
<circle cx="613.02" cy="66.18" r="0.36" fill="#555" opacity="0.67"/>
<circle cx="614.15" cy="62.20" r="0.38" fill="#555" opacity="0.99"/>
<circle cx="621.39" cy="55.77" r="0.40" fill="#555" opacity="0.63"/>
<circle cx="627.41" cy="72.37" r="0.47" fill="#555" opacity="0.56"/>
<circle cx="610.91" cy="75.63" r="0.72" fill="#555" opacity="0.63"/>
<circle cx="624.61" cy="80.23" r="0.61" fill="#555" opacity="0.85"/>
<circle cx="635.38" cy="68.38" r="0.66" fill="#555" opacity="0.71"/>
<circle cx="637.60" cy="71.60" r="0.64" fill="#555" opacity="0.90"/>
<circle cx="637.36" cy="72.02" r="0.38" fill="#555" opacity="0.93"/>
<circle cx="632.84" cy="68.80" r="0.60" fill="#555" opacity="0.96"/>
<circle cx="634.57" cy="70.86" r="0.59" fill="#555" opacity="0.62"/>
<g clip-path="url(#ewl)"><rect x="584" y="34" width="56" height="53" filter="url(#nz)" opacity="0.13"/><rect x="584" y="34" width="56" height="53" filter="url(#nz2)" opacity="0.15"/></g>
<line x1="607.5" y1="34" x2="607.5" y2="87" stroke="#f2f2f2" stroke-width="1.4" opacity="0.8"/>
<line x1="630.6" y1="40" x2="630.6" y2="86" stroke="#f2f2f2" stroke-width="1.2" opacity="0.7"/>
<circle cx="667.6" cy="60.0" r="27.5" fill="#c3c3c3"/>
<ellipse cx="648.0" cy="62.0" rx="7.0" ry="21.0" fill="#c4c4c4" stroke="#a0a0a0" stroke-width="0.6" opacity="1"/>
<ellipse cx="665.5" cy="44.0" rx="11.0" ry="9.5" fill="#bebebe" stroke="#888" stroke-width="0.6" opacity="1"/>
<ellipse cx="665.5" cy="69.4" rx="11.0" ry="15.8" fill="#bababa" stroke="#808080" stroke-width="0.7" opacity="1"/>
<ellipse cx="686.4" cy="44.5" rx="8.9" ry="9.5" fill="#c0c0c0" stroke="#959595" stroke-width="0.6" opacity="1"/>
<ellipse cx="686.4" cy="67.2" rx="8.9" ry="13.7" fill="#bcbcbc" stroke="#888" stroke-width="0.7" opacity="1"/>
<circle cx="668.57" cy="46.18" r="0.37" fill="#666" opacity="0.60"/>
<circle cx="663.42" cy="48.37" r="0.69" fill="#666" opacity="0.64"/>
<circle cx="661.32" cy="44.00" r="0.51" fill="#666" opacity="0.51"/>
<circle cx="665.50" cy="45.06" r="0.68" fill="#666" opacity="0.78"/>
<circle cx="668.03" cy="49.47" r="0.77" fill="#666" opacity="0.55"/>
<circle cx="668.23" cy="38.90" r="0.57" fill="#666" opacity="0.92"/>
<circle cx="659.98" cy="47.79" r="0.66" fill="#666" opacity="0.99"/>
<circle cx="660.53" cy="80.23" r="0.67" fill="#666" opacity="0.82"/>
<circle cx="660.68" cy="74.13" r="0.37" fill="#666" opacity="0.56"/>
<circle cx="673.19" cy="74.66" r="0.47" fill="#666" opacity="0.58"/>
<circle cx="673.33" cy="76.00" r="0.74" fill="#666" opacity="0.84"/>
<circle cx="664.53" cy="76.26" r="0.48" fill="#666" opacity="0.73"/>
<circle cx="669.13" cy="77.34" r="0.47" fill="#666" opacity="0.98"/>
<circle cx="672.71" cy="67.60" r="0.46" fill="#666" opacity="0.98"/>
<circle cx="663.34" cy="77.30" r="0.35" fill="#666" opacity="0.69"/>
<circle cx="658.57" cy="71.00" r="0.44" fill="#666" opacity="0.75"/>
<circle cx="670.59" cy="69.63" r="0.39" fill="#666" opacity="0.70"/>
<circle cx="666.93" cy="69.95" r="0.49" fill="#666" opacity="0.62"/>
<circle cx="659.31" cy="64.10" r="0.69" fill="#666" opacity="0.83"/>
<circle cx="663.53" cy="56.37" r="0.53" fill="#666" opacity="0.66"/>
<circle cx="669.31" cy="68.87" r="0.68" fill="#666" opacity="0.82"/>
<circle cx="693.45" cy="64.47" r="0.75" fill="#666" opacity="0.81"/>
<circle cx="685.67" cy="43.86" r="0.41" fill="#666" opacity="0.76"/>
<circle cx="679.08" cy="59.55" r="0.71" fill="#666" opacity="0.91"/>
<circle cx="679.86" cy="51.43" r="0.66" fill="#666" opacity="0.85"/>
<circle cx="686.58" cy="63.15" r="0.41" fill="#666" opacity="0.68"/>
<circle cx="692.19" cy="70.08" r="0.60" fill="#666" opacity="0.81"/>
<circle cx="681.76" cy="49.42" r="0.57" fill="#666" opacity="0.50"/>
<circle cx="688.45" cy="45.12" r="0.58" fill="#666" opacity="0.77"/>
<circle cx="685.29" cy="56.11" r="0.68" fill="#666" opacity="0.63"/>
<circle cx="650.90" cy="66.39" r="0.68" fill="#777" opacity="0.60"/>
<circle cx="647.60" cy="43.37" r="0.57" fill="#777" opacity="0.69"/>
<circle cx="642.84" cy="64.06" r="0.70" fill="#777" opacity="0.81"/>
<circle cx="646.91" cy="57.89" r="0.42" fill="#777" opacity="0.63"/>
<circle cx="647.85" cy="51.58" r="0.61" fill="#777" opacity="0.51"/>
<g clip-path="url(#ewr)"><rect x="640" y="34" width="56" height="53" filter="url(#nz)" opacity="0.1"/><rect x="640" y="34" width="56" height="53" filter="url(#nz2)" opacity="0.15"/></g>
<line x1="654.3" y1="34" x2="654.3" y2="87" stroke="#f2f2f2" stroke-width="1.4" opacity="0.8"/>
<line x1="677.1" y1="34" x2="677.1" y2="87" stroke="#f2f2f2" stroke-width="1.4" opacity="0.8"/>
</g></g>
<text x="595.70" y="28.80" font-size="9.5" font-weight="bold" text-anchor="start" fill="#000" stroke="#000" stroke-width="0.3">BCM-173</text>
<text x="652.70" y="28.50" font-size="9.4" font-weight="bold" text-anchor="start" fill="#000" stroke="#000" stroke-width="0.3">Control</text>
<g clip-path="url(#c2)"><g filter="url(#blr)">
<rect x="584.10" y="221.00" width="113.70" height="54.70" fill="#b9b9b9"/>
<g clip-path="url(#c3)">
<rect x="584.00" y="220.00" width="58.00" height="58.00" fill="#979797"/>
<ellipse cx="599.7" cy="231.4" rx="10.4" ry="8.8" fill="#969696" stroke="#5a5a5a" stroke-width="0.8" opacity="1"/>
<ellipse cx="620.6" cy="230.9" rx="11.2" ry="9.3" fill="#939393" stroke="#555" stroke-width="0.8" opacity="1"/>
<ellipse cx="597.6" cy="257.0" rx="11.4" ry="16.2" fill="#909090" stroke="#555" stroke-width="0.8" opacity="1"/>
<ellipse cx="620.9" cy="257.2" rx="11.6" ry="16.4" fill="#8e8e8e" stroke="#555" stroke-width="0.8" opacity="1"/>
<ellipse cx="601.8" cy="231.0" rx="1.1" ry="2.2" fill="#4a4a4a" stroke="none" stroke-width="0" opacity="1"/>
<ellipse cx="624.0" cy="231.0" rx="1.1" ry="2.2" fill="#4a4a4a" stroke="none" stroke-width="0" opacity="1"/>
<ellipse cx="601.0" cy="266.0" rx="1.0" ry="1.8" fill="#4a4a4a" stroke="none" stroke-width="0" opacity="1"/>
<ellipse cx="624.5" cy="266.5" rx="1.0" ry="1.8" fill="#4a4a4a" stroke="none" stroke-width="0" opacity="1"/>
<ellipse cx="595" cy="250" rx="0.9" ry="1.5" fill="#4a4a4a" stroke="none" stroke-width="0" opacity="1"/>
<ellipse cx="618" cy="250" rx="0.9" ry="1.5" fill="#4a4a4a" stroke="none" stroke-width="0" opacity="1"/>
<circle cx="602.54" cy="259.81" r="0.79" fill="#555" opacity="0.85"/>
<circle cx="595.11" cy="249.98" r="0.71" fill="#555" opacity="0.73"/>
<circle cx="594.15" cy="258.05" r="0.90" fill="#555" opacity="0.60"/>
<circle cx="607.43" cy="255.07" r="0.46" fill="#555" opacity="0.73"/>
<circle cx="601.89" cy="244.02" r="0.67" fill="#555" opacity="0.63"/>
<circle cx="600.09" cy="270.73" r="0.56" fill="#555" opacity="0.79"/>
<circle cx="602.27" cy="265.21" r="0.93" fill="#555" opacity="0.57"/>
<circle cx="600.72" cy="247.60" r="0.89" fill="#555" opacity="0.85"/>
<circle cx="598.73" cy="270.72" r="0.69" fill="#555" opacity="0.51"/>
<circle cx="604.79" cy="257.23" r="0.68" fill="#555" opacity="0.65"/>
<circle cx="601.41" cy="263.61" r="0.61" fill="#555" opacity="0.92"/>
<circle cx="606.49" cy="257.14" r="0.87" fill="#555" opacity="0.56"/>
<circle cx="605.35" cy="251.51" r="0.90" fill="#555" opacity="0.64"/>
<circle cx="593.13" cy="263.57" r="0.95" fill="#555" opacity="0.79"/>
<circle cx="593.30" cy="264.32" r="0.59" fill="#555" opacity="0.52"/>
<circle cx="605.12" cy="264.94" r="0.59" fill="#555" opacity="0.97"/>
<circle cx="597.62" cy="264.52" r="0.71" fill="#555" opacity="0.59"/>
<circle cx="590.58" cy="267.19" r="0.89" fill="#555" opacity="0.91"/>
<circle cx="590.93" cy="246.79" r="0.92" fill="#555" opacity="0.77"/>
<circle cx="597.17" cy="253.82" r="0.82" fill="#555" opacity="0.73"/>
<circle cx="621.04" cy="245.35" r="0.59" fill="#555" opacity="0.52"/>
<circle cx="624.24" cy="254.86" r="0.69" fill="#555" opacity="0.67"/>
<circle cx="618.25" cy="269.32" r="0.94" fill="#555" opacity="0.63"/>
<circle cx="617.71" cy="250.48" r="0.73" fill="#555" opacity="0.70"/>
<circle cx="622.98" cy="262.35" r="0.55" fill="#555" opacity="0.95"/>
<circle cx="616.00" cy="257.33" r="0.90" fill="#555" opacity="1.00"/>
<circle cx="617.19" cy="258.91" r="0.55" fill="#555" opacity="0.55"/>
<circle cx="619.18" cy="260.93" r="0.57" fill="#555" opacity="0.63"/>
<circle cx="611.99" cy="251.31" r="0.82" fill="#555" opacity="0.71"/>
<circle cx="614.42" cy="262.70" r="0.64" fill="#555" opacity="0.67"/>
<circle cx="625.99" cy="260.16" r="0.93" fill="#555" opacity="0.56"/>
<circle cx="612.62" cy="256.95" r="0.88" fill="#555" opacity="0.61"/>
<circle cx="620.21" cy="264.49" r="0.65" fill="#555" opacity="0.72"/>
<circle cx="630.12" cy="253.32" r="0.89" fill="#555" opacity="0.51"/>
<circle cx="629.51" cy="259.70" r="0.90" fill="#555" opacity="0.74"/>
<circle cx="620.78" cy="257.10" r="0.65" fill="#555" opacity="0.96"/>
<circle cx="625.32" cy="245.06" r="0.94" fill="#555" opacity="0.62"/>
<circle cx="624.08" cy="260.87" r="0.71" fill="#555" opacity="0.84"/>
<circle cx="629.18" cy="252.69" r="0.77" fill="#555" opacity="0.88"/>
<circle cx="613.42" cy="260.10" r="0.47" fill="#555" opacity="0.89"/>
<circle cx="600.68" cy="238.95" r="0.77" fill="#555" opacity="0.65"/>
<circle cx="602.96" cy="234.26" r="0.77" fill="#555" opacity="0.85"/>
<circle cx="601.59" cy="232.76" r="0.71" fill="#555" opacity="0.79"/>
<circle cx="596.32" cy="233.82" r="0.75" fill="#555" opacity="0.51"/>
<circle cx="597.68" cy="236.50" r="0.93" fill="#555" opacity="0.82"/>
<circle cx="604.51" cy="227.76" r="0.57" fill="#555" opacity="0.62"/>
<circle cx="607.32" cy="229.77" r="0.60" fill="#555" opacity="0.51"/>
<circle cx="592.01" cy="231.47" r="0.66" fill="#555" opacity="0.63"/>
<circle cx="615.79" cy="223.91" r="0.56" fill="#555" opacity="0.52"/>
<circle cx="617.17" cy="235.52" r="0.79" fill="#555" opacity="0.60"/>
<circle cx="623.13" cy="224.02" r="0.70" fill="#555" opacity="0.60"/>
<circle cx="626.13" cy="230.02" r="0.86" fill="#555" opacity="0.62"/>
<circle cx="622.17" cy="238.08" r="0.60" fill="#555" opacity="0.98"/>
<circle cx="616.24" cy="231.00" r="0.56" fill="#555" opacity="0.71"/>
<circle cx="615.62" cy="223.87" r="0.52" fill="#555" opacity="0.70"/>
<circle cx="622.90" cy="238.94" r="0.52" fill="#555" opacity="0.53"/>
<rect x="584" y="220" width="58" height="57" filter="url(#nz)" opacity="0.22"/><rect x="584" y="220" width="58" height="57" filter="url(#nz2)" opacity="0.15"/>
<line x1="585" y1="240.6" x2="640" y2="240.6" stroke="#f2f2f2" stroke-width="1.2" opacity="0.55"/>
<path d="M599.5,242 Q605,248 608,256" fill="none" stroke="#f4f4f4" stroke-width="1.5" opacity="0.6"/>
<path d="M622.5,242 Q628,248 631,256" fill="none" stroke="#f4f4f4" stroke-width="1.5" opacity="0.6"/>
<path d="M590,241 Q596,239 601,242" fill="none" stroke="#f4f4f4" stroke-width="1.2" opacity="0.8"/>
<path d="M613,241 Q619,239 624,242" fill="none" stroke="#f4f4f4" stroke-width="1.2" opacity="0.8"/>
<line x1="609.8" y1="221" x2="609.8" y2="275" stroke="#f2f2f2" stroke-width="0.9" opacity="0.35"/>
</g>
<g clip-path="url(#c4)">
<rect x="641.00" y="220.00" width="58.00" height="58.00" fill="#ababab"/>
<ellipse cx="651.0" cy="257.0" rx="8.0" ry="17.0" fill="#a2a2a2" stroke="#6e6e6e" stroke-width="0.7" opacity="1"/>
<ellipse cx="668.8" cy="232.0" rx="10.5" ry="10.0" fill="#a3a3a3" stroke="#707070" stroke-width="0.7" opacity="1"/>
<ellipse cx="668.8" cy="261.0" rx="10.8" ry="17.5" fill="#9c9c9c" stroke="#6a6a6a" stroke-width="0.8" opacity="1"/>
<ellipse cx="688.0" cy="254.0" rx="7.5" ry="18.0" fill="#a0a0a0" stroke="#6e6e6e" stroke-width="0.7" opacity="1"/>
<ellipse cx="688.0" cy="232.0" rx="7.0" ry="9.0" fill="#a6a6a6" stroke="#777" stroke-width="0.7" opacity="1"/>
<circle cx="674.47" cy="264.64" r="0.90" fill="#555" opacity="0.94"/>
<circle cx="667.75" cy="245.36" r="0.92" fill="#555" opacity="0.66"/>
<circle cx="672.51" cy="275.00" r="0.82" fill="#555" opacity="0.52"/>
<circle cx="665.74" cy="252.68" r="0.64" fill="#555" opacity="0.67"/>
<circle cx="669.05" cy="261.74" r="0.59" fill="#555" opacity="0.68"/>
<circle cx="672.09" cy="259.47" r="0.93" fill="#555" opacity="0.60"/>
<circle cx="663.33" cy="272.19" r="0.86" fill="#555" opacity="0.72"/>
<circle cx="675.17" cy="264.30" r="0.64" fill="#555" opacity="0.96"/>
<circle cx="670.86" cy="269.90" r="0.90" fill="#555" opacity="0.52"/>
<circle cx="661.38" cy="268.54" r="0.83" fill="#555" opacity="0.52"/>
<circle cx="671.17" cy="261.86" r="0.91" fill="#555" opacity="0.63"/>
<circle cx="668.64" cy="246.07" r="0.62" fill="#555" opacity="0.64"/>
<circle cx="676.17" cy="257.75" r="0.58" fill="#555" opacity="0.86"/>
<circle cx="666.73" cy="268.56" r="0.45" fill="#555" opacity="0.88"/>
<circle cx="675.50" cy="254.72" r="0.92" fill="#555" opacity="0.51"/>
<circle cx="669.48" cy="271.80" r="0.93" fill="#555" opacity="0.98"/>
<circle cx="665.22" cy="234.95" r="0.66" fill="#555" opacity="0.75"/>
<circle cx="672.44" cy="230.32" r="0.85" fill="#555" opacity="0.87"/>
<circle cx="672.47" cy="224.90" r="0.75" fill="#555" opacity="0.66"/>
<circle cx="666.39" cy="236.91" r="0.84" fill="#555" opacity="0.54"/>
<circle cx="671.47" cy="239.39" r="0.57" fill="#555" opacity="0.53"/>
<circle cx="675.67" cy="233.41" r="0.61" fill="#555" opacity="0.99"/>
<circle cx="675.79" cy="226.02" r="0.58" fill="#555" opacity="0.54"/>
<circle cx="674.28" cy="235.62" r="0.80" fill="#555" opacity="0.72"/>
<circle cx="651.46" cy="266.83" r="0.76" fill="#555" opacity="0.84"/>
<circle cx="650.92" cy="242.92" r="0.78" fill="#555" opacity="0.56"/>
<circle cx="653.11" cy="250.02" r="0.73" fill="#555" opacity="0.69"/>
<circle cx="650.76" cy="250.19" r="0.57" fill="#555" opacity="0.62"/>
<circle cx="654.86" cy="268.81" r="0.74" fill="#555" opacity="0.66"/>
<circle cx="645.30" cy="266.26" r="0.70" fill="#555" opacity="0.62"/>
<circle cx="653.09" cy="245.46" r="0.95" fill="#555" opacity="0.55"/>
<circle cx="644.57" cy="259.19" r="0.87" fill="#555" opacity="0.96"/>
<circle cx="691.54" cy="252.45" r="0.51" fill="#555" opacity="0.59"/>
<circle cx="693.08" cy="247.68" r="0.92" fill="#555" opacity="0.69"/>
<circle cx="691.02" cy="241.01" r="0.58" fill="#555" opacity="0.89"/>
<circle cx="690.07" cy="248.04" r="0.75" fill="#555" opacity="0.81"/>
<circle cx="688.83" cy="260.70" r="0.52" fill="#555" opacity="0.60"/>
<circle cx="687.84" cy="263.93" r="0.78" fill="#555" opacity="0.60"/>
<circle cx="691.85" cy="250.74" r="0.79" fill="#555" opacity="0.59"/>
<circle cx="686.84" cy="257.51" r="0.85" fill="#555" opacity="0.77"/>
<circle cx="689.98" cy="252.22" r="0.65" fill="#555" opacity="0.78"/>
<circle cx="686.69" cy="245.83" r="0.53" fill="#555" opacity="0.85"/>
<rect x="641" y="220" width="58" height="57" filter="url(#nz)" opacity="0.16"/><rect x="641" y="220" width="58" height="57" filter="url(#nz2)" opacity="0.15"/>
<line x1="657.1" y1="221" x2="657.1" y2="275" stroke="#f2f2f2" stroke-width="1.4" opacity="0.6"/>
<line x1="680.6" y1="221" x2="680.6" y2="275" stroke="#f2f2f2" stroke-width="1.4" opacity="0.6"/>
<line x1="642" y1="238.3" x2="697" y2="238.3" stroke="#f2f2f2" stroke-width="1.2" opacity="0.55"/>
</g>
</g></g>
<text x="593.90" y="215.20" font-size="10" font-weight="bold" text-anchor="start" fill="#000" stroke="#000" stroke-width="0.3">BCM-173</text>
<text x="651.90" y="215.20" font-size="9.9" font-weight="bold" text-anchor="start" fill="#000" stroke="#000" stroke-width="0.3">Control</text>
</svg>
</body></html>
